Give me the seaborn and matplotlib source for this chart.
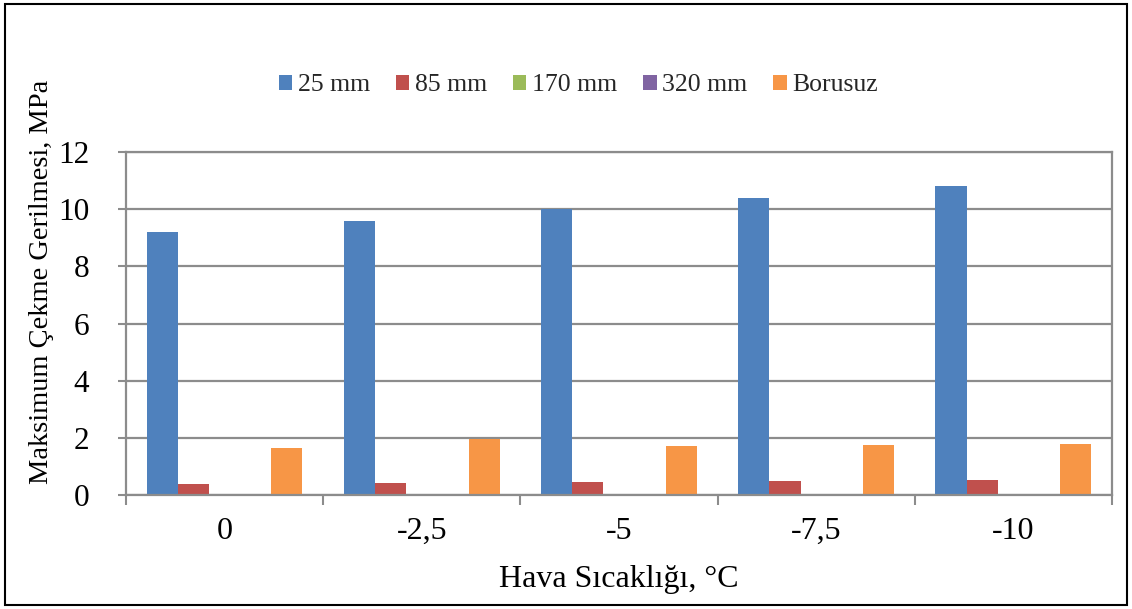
import matplotlib
matplotlib.use("Agg")
import matplotlib.pyplot as plt
import seaborn as sns
import pandas as pd
from matplotlib.patches import Rectangle
from matplotlib.ticker import FixedLocator

# Air temperature categories and maximum tensile stress per pipe case (MPa)
temperatures = ["0", "-2,5", "-5", "-7,5", "-10"]
series_names = ["25 mm", "85 mm", "170 mm", "320 mm", "Borusuz"]
stress_25mm = [9.2, 9.6, 10.0, 10.4, 10.8]
stress_85mm = [0.40, 0.42, 0.46, 0.49, 0.53]
stress_170mm = [0.01, 0.01, 0.01, 0.02, 0.02]
stress_320mm = [0.0, 0.0, 0.0, 0.0, 0.0]
stress_borusuz = [1.64, 1.96, 1.72, 1.75, 1.79]
yticks = [0, 2, 4, 6, 8, 10, 12]

colors = ["#4F81BD", "#C0504D", "#9BBB59", "#8064A2", "#F79646"]

series_values = [stress_25mm, stress_85mm, stress_170mm, stress_320mm, stress_borusuz]
rows = []
for name, vals in zip(series_names, series_values):
    for t, v in zip(temperatures, vals):
        rows.append({"Sicaklik": t, "Seri": name, "Gerilme": v})
df = pd.DataFrame(rows)

sns.set_theme(style="white")
plt.rcParams["font.family"] = ["Liberation Serif", "DejaVu Serif"]

fig = plt.figure(figsize=(11.32, 6.09), dpi=100)
ax = fig.add_axes([0.1113, 0.1872, 0.8710, 0.5632])

sns.barplot(data=df, x="Sicaklik", y="Gerilme", hue="Seri",
            order=temperatures, hue_order=series_names,
            palette=colors, width=0.79, gap=0, saturation=1,
            linewidth=0, ax=ax, errorbar=None)

ax.set_xlim(-0.5, len(temperatures) - 0.5)
ax.set_ylim(0, 12)
ax.set_yticks(yticks)
ax.set_yticklabels([str(v) for v in yticks])
ax.yaxis.grid(True, color="#8C8C8C", linewidth=1.6)
ax.set_axisbelow(True)

for side in ["left", "bottom", "right", "top"]:
    ax.spines[side].set_visible(True)
    ax.spines[side].set_color("#8C8C8C")
    ax.spines[side].set_linewidth(1.6)

ax.tick_params(axis="y", which="major", length=6, width=1.5, color="#8C8C8C",
               direction="out", left=True, labelsize=22.5, pad=20.5, labelcolor="black")
ax.tick_params(axis="x", which="major", length=0, labelsize=23, pad=16,
               labelcolor="black")
ax.xaxis.set_minor_locator(FixedLocator([i - 0.5 for i in range(len(temperatures) + 1)]))
ax.tick_params(axis="x", which="minor", length=7, width=1.5, color="#8C8C8C",
               direction="out", bottom=True)

ax.set_xlabel("")
ax.set_ylabel("")
ax.text(0.5, -0.245, "Hava Sıcaklığı, °C", transform=ax.transAxes,
        ha="center", va="center", fontsize=23, color="black")
ax.text(-0.0862, 0.621, "Maksimum Çekme Gerilmesi, MPa", transform=ax.transAxes,
        ha="center", va="center", rotation=90, fontsize=20.5, color="black")

ax.legend(loc="center", bbox_to_anchor=(0.459, 1.195), ncol=5, frameon=False,
          fontsize=18.5, handlelength=0.52, handleheight=0.52, handletextpad=0.23,
          columnspacing=1.0, borderaxespad=0)

# Outer frame around the whole chart
fig.patches.append(Rectangle((0.004, 0.007), 0.992, 0.986, transform=fig.transFigure,
                             fill=False, edgecolor="black", linewidth=1.5))

fig.savefig("out.png", dpi=100)
